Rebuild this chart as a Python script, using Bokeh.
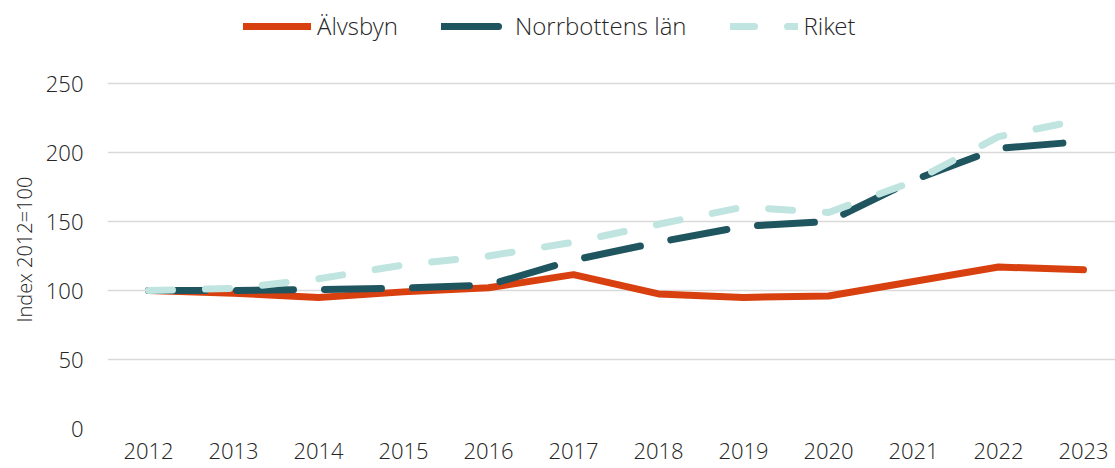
from bokeh.plotting import figure
from bokeh.models import Range1d, FixedTicker, Legend, LegendItem, Title
from bokeh.embed import file_html
from bokeh.resources import INLINE

# ---- data ----
years = [2012, 2013, 2014, 2015, 2016, 2017, 2018, 2019, 2020, 2021, 2022, 2023]
alvsbyn = [100, 98, 95, 99, 102, 111.5, 97.5, 95, 96, 106.5, 117, 115]
norrbotten = [100, 100, 100.7, 101.7, 104, 122, 135, 146.5, 150, 180, 203, 208]
riket = [100, 101.5, 108.5, 118.5, 125, 135, 148, 160.5, 156.5, 179, 211.5, 224]
series_names = ["Älvsbyn", "Norrbottens län", "Riket"]
y_ticks = [0, 50, 100, 150, 200, 250]
y_title = "Index 2012=100"

FONT = "Open Sans Light"
W, H = 1115, 468
LEFT, TOP, BOTTOM = 107, 0, 40
px_per_year = 85.0
frame_w = W - LEFT
frame_h = H - TOP - BOTTOM
x0 = years[0] - 41.0 / px_per_year
y_end = frame_h / 1.38

p = figure(width=W, height=H, output_backend="svg", toolbar_location=None,
           x_range=Range1d(x0, x0 + frame_w / px_per_year),
           y_range=Range1d(0, y_end),
           min_border_left=LEFT, min_border_right=0,
           min_border_top=TOP, min_border_bottom=BOTTOM)
p.outline_line_color = None
p.background_fill_color = "white"
p.border_fill_color = "white"

r1 = p.line(years, alvsbyn, line_color="#D9400F", line_width=7,
            line_cap="round", line_join="round")
r2 = p.line(years, norrbotten, line_color="#1F555F", line_width=7,
            line_cap="round", line_join="round", line_dash="57 31")
r3 = p.line(years, riket, line_color="#C0E4E0", line_width=7,
            line_cap="round", line_join="round", line_dash="24 33")

# axes
p.xaxis.ticker = FixedTicker(ticks=years)
p.yaxis.ticker = FixedTicker(ticks=y_ticks)
for ax in (p.xaxis, p.yaxis):
    ax.axis_line_color = None
    ax.major_tick_line_color = None
    ax.minor_tick_line_color = None
    ax.major_tick_out = 0
    ax.major_tick_in = 0
    ax.major_label_text_font = FONT
    ax.major_label_text_font_size = "22px"
    ax.major_label_text_color = "#262626"
p.xaxis.major_label_standoff = 14
p.yaxis.major_label_standoff = 24

ytitle = Title(text=y_title, align="left", offset=106,
               text_font=FONT, text_font_size="20px", text_font_style="normal",
               text_color="#262626", standoff=9)
p.add_layout(ytitle, "left")

p.xgrid.grid_line_color = None
p.ygrid.grid_line_color = "#D9D9D9"
p.ygrid.grid_line_width = 1.5

legend = Legend(items=[LegendItem(label=n, renderers=[r]) for n, r in zip(series_names, [r1, r2, r3])],
                orientation="horizontal", location=(136, 386),
                glyph_width=68, glyph_height=22, label_height=22,
                label_standoff=6, spacing=43, padding=0, margin=0,
                border_line_alpha=0, background_fill_alpha=0,
                label_text_font=FONT, label_text_font_size="24px",
                label_text_color="#262626")
p.add_layout(legend)

open("out.html", "w").write(file_html(p, INLINE))
